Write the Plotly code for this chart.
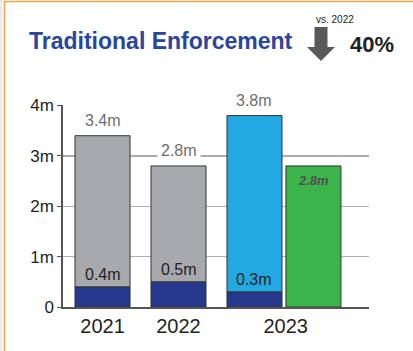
import plotly.graph_objects as go

# --- data -------------------------------------------------------------
years = ["2021", "2022", "2023"]
totals = [3.4, 2.8, 3.8]          # total enforcement (millions)
base_part = [0.4, 0.5, 0.3]       # dark-blue portion (millions)
target_2023 = 2.8                 # green comparison bar (millions)
change_pct = "40%"
change_ref = "vs. 2022"
y_ticks = [0, 1, 2, 3, 4]
y_tick_text = ["0", "1m", "2m", "3m", "4m"]

# x positions of the bars (2023 has two bars side by side)
x_pos = [0, 1, 2]
x_target = 2.776
x_tick_pos = [0, 1, 2.41]
bar_w = 0.724

GREY = "#a7a9ac"
NAVY = "#27388f"
SKY = "#22a9e1"
GREEN = "#3cb54a"
EDGE = "#333333"
FONT = "Liberation Sans, Arial, sans-serif"

upper = [t - b for t, b in zip(totals, base_part)]

fig = go.Figure()
fig.add_trace(go.Bar(x=x_pos, y=base_part, width=bar_w,
                     marker=dict(color=NAVY, line=dict(color=EDGE, width=1))))
fig.add_trace(go.Bar(x=x_pos[:2], y=upper[:2], base=base_part[:2], width=bar_w,
                     marker=dict(color=GREY, line=dict(color=EDGE, width=1))))
fig.add_trace(go.Bar(x=x_pos[2:], y=upper[2:], base=base_part[2:], width=bar_w,
                     marker=dict(color=SKY, line=dict(color=EDGE, width=1))))
fig.add_trace(go.Bar(x=[x_target], y=[target_2023], width=bar_w,
                     marker=dict(color=GREEN, line=dict(color=EDGE, width=1))))

ann = []
# total labels above the bars
for x, t in zip(x_pos, totals):
    ann.append(dict(x=x, y=t, xref="x", yref="y", text=f"{t:.1f}m",
                    showarrow=False, yanchor="bottom", yshift=3,
                    bgcolor="white", borderpad=3,
                    font=dict(family=FONT, size=16, color="#6d6e71")))
# lower-segment labels
for x, b in zip(x_pos, base_part):
    ann.append(dict(x=x, y=b, xref="x", yref="y", text=f"{b:.1f}m",
                    showarrow=False, yanchor="bottom", yshift=2,
                    font=dict(family=FONT, size=16, color="#231f20")))
# label inside the green bar
ann.append(dict(x=x_target, y=target_2023, xref="x", yref="y",
                text=f"<b><i>{target_2023:.1f}m</i></b>", showarrow=False,
                yanchor="top", yshift=-5,
                font=dict(family=FONT, size=13, color="#505052")))

# header
ann.append(dict(x=-0.1176, y=1.317, xref="paper", yref="paper",
                text="<b>Traditional Enforcement</b>", showarrow=False,
                xanchor="left", yanchor="middle",
                font=dict(family=FONT, size=23, color="#2a45a0")))
ann.append(dict(x=0.889, y=1.421, xref="paper", yref="paper",
                text=change_ref, showarrow=False,
                xanchor="center", yanchor="middle",
                font=dict(family=FONT, size=10, color="#222222")))
ann.append(dict(x=0.9314, y=1.30, xref="paper", yref="paper",
                text=f"<b>{change_pct}</b>", showarrow=False,
                xanchor="left", yanchor="middle",
                font=dict(family=FONT, size=22, color="#222222")))

shapes = [
    # darker reference line at 3m
    dict(type="line", xref="paper", yref="y", x0=0, x1=1, y0=3, y1=3,
         line=dict(color="#555555", width=1.2), layer="below"),
    # down arrow icon
    dict(type="path", xref="paper", yref="paper",
         xsizemode="pixel", ysizemode="pixel",
         xanchor=0.8431, yanchor=1.2178,
         path="M 0 0 L -14 14 L -6.5 14 L -6.5 34 L 6.5 34 L 6.5 14 L 14 14 Z",
         fillcolor="#58595b", line=dict(width=0)),
    # frame decoration
    dict(type="rect", xref="paper", yref="paper",
         x0=-0.2059, x1=-0.1977, y0=-0.22, y1=1.52,
         fillcolor="#ececf0", line=dict(width=0), layer="below"),
    dict(type="line", xref="paper", yref="paper",
         x0=-0.1912, x1=-0.1912, y0=-0.22, y1=1.515,
         line=dict(color="#f4a345", width=1.5)),
    dict(type="line", xref="paper", yref="paper",
         x0=-0.1925, x1=1.15, y0=1.5124, y1=1.5124,
         line=dict(color="#f4a345", width=1.5)),
]

fig.update_layout(
    width=413, height=351,
    margin=dict(l=63, r=44, t=105, b=44),
    paper_bgcolor="white", plot_bgcolor="white",
    barmode="overlay", showlegend=False,
    annotations=ann, shapes=shapes,
    xaxis=dict(range=[-0.52, 3.507], tickvals=x_tick_pos, ticktext=years,
               showgrid=False, zeroline=False, showline=True,
               linecolor="#555555", linewidth=2, ticks="",
               tickfont=dict(family=FONT, size=20, color="#231f20"),
               fixedrange=True),
    yaxis=dict(range=[0, 4.01], tickvals=y_ticks, ticktext=y_tick_text,
               showgrid=True, gridcolor="#b0b0b0", gridwidth=1,
               zeroline=False, showline=True, linecolor="#555555",
               linewidth=1.5, ticks="outside", ticklen=4,
               tickcolor="#555555",
               tickfont=dict(family=FONT, size=17, color="#231f20"),
               fixedrange=True),
)

fig.write_html("out.html", config={"displayModeBar": False})
